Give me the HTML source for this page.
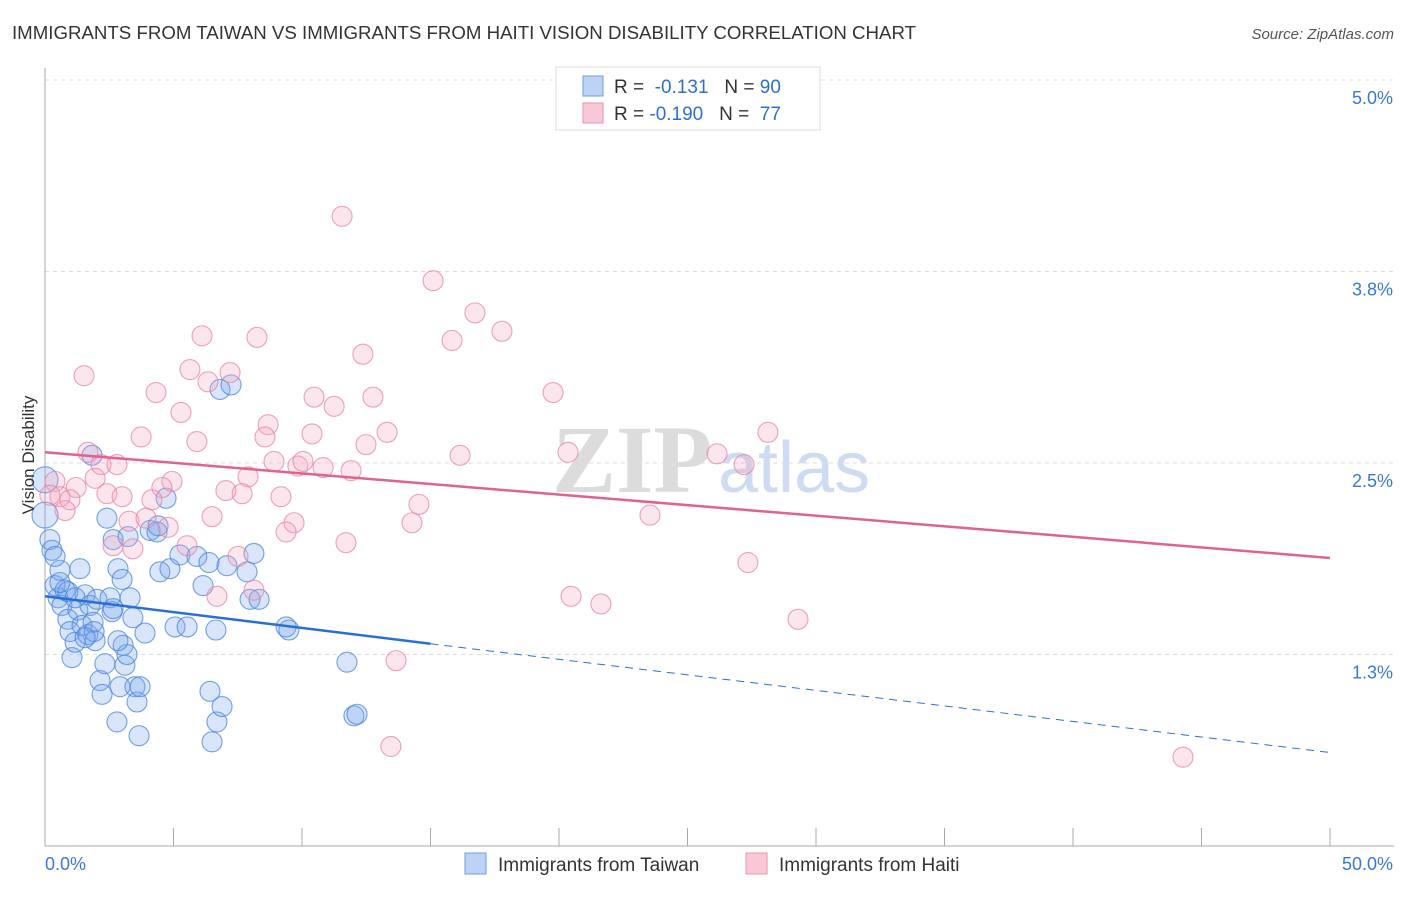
<!DOCTYPE html>
<html><head><meta charset="utf-8"><style>
body{margin:0;background:#fff;font-family:"Liberation Sans",sans-serif}
</style></head><body>
<svg id="chart" width="1406" height="892" xmlns="http://www.w3.org/2000/svg" font-family="Liberation Sans, sans-serif">
<text x="12" y="39" font-size="18" fill="#333" textLength="904" lengthAdjust="spacingAndGlyphs">IMMIGRANTS FROM TAIWAN VS IMMIGRANTS FROM HAITI VISION DISABILITY CORRELATION CHART</text>
<text x="1394" y="39" font-size="15" fill="#555" text-anchor="end" font-style="italic">Source: ZipAtlas.com</text>
<g>
<text x="552" y="492" font-size="96" fill="#dcdcdc" font-family="Liberation Serif, serif" font-weight="bold">ZIP</text>
<text x="718" y="492" font-size="72" fill="#cddcf2">atlas</text>
</g>
<g id="grid"></g><g id="axes"></g><g id="pts"></g><g id="trends"></g>
<text transform="translate(34,455) rotate(-90)" font-size="17" fill="#333" text-anchor="middle">Vision Disability</text>
<g>
<rect x="556" y="67" width="264" height="63" fill="#fff" stroke="#ddd"/>
<rect x="583" y="76" width="20" height="20" fill="#bcd3f5" stroke="#6f9ee0"/>
<rect x="583" y="103" width="20" height="20" fill="#f9c8d6" stroke="#ea93ae"/>
<text x="614" y="93" font-size="19" fill="#333">R = <tspan fill="#2f6fd0">&#160;-0.131</tspan>&#160;&#160;&#160;N = <tspan fill="#2f6fd0">90</tspan></text>
<text x="614" y="120" font-size="19" fill="#333">R = <tspan fill="#2f6fd0">-0.190</tspan>&#160;&#160;&#160;N = <tspan fill="#2f6fd0">&#160;77</tspan></text>
</g>
<g>
<rect x="465" y="853" width="21" height="21" fill="#bcd3f5" stroke="#6f9ee0"/>
<text x="498" y="871" font-size="19" fill="#333">Immigrants from Taiwan</text>
<rect x="746" y="853" width="21" height="21" fill="#f9c8d6" stroke="#ea93ae"/>
<text x="779" y="871" font-size="19" fill="#333">Immigrants from Haiti</text>
</g>
</svg>
<script>
const yTicks=[1.25,2.5,3.75,5.0];
const yTickLabels=["1.3%","2.5%","3.8%","5.0%"];
const xTicks=[0,5,10,15,20,25,30,35,40,45,50];
const taiwanX=[0,0,0.19,0.27,0.39,0.51,0.58,0.66,0.78,0.89,0.97,1.05,1.17,1.28,1.36,1.44,1.56,1.67,1.75,1.83,1.87,1.95,2.02,2.14,2.22,2.33,2.41,2.53,2.61,2.65,2.80,2.84,2.92,3.00,3.04,3.11,3.19,3.23,3.31,3.42,3.50,3.58,3.66,3.70,3.89,4.09,4.36,4.40,4.47,4.71,4.86,5.06,5.25,5.53,5.91,6.15,6.38,6.42,6.50,6.65,6.69,6.81,6.89,7.08,7.24,7.86,7.98,8.13,8.33,9.38,9.49,11.75,12.02,12.14,0.39,0.89,1.17,1.91,1.56,2.65,0.58,2.84];
const taiwanY=[2.39,2.16,2.00,1.93,1.70,1.62,1.80,1.57,1.67,1.48,1.40,1.23,1.33,1.54,1.81,1.44,1.64,1.38,1.57,2.55,1.46,1.34,1.61,1.08,0.99,1.19,2.14,1.62,1.53,2.00,0.81,1.81,1.04,1.74,1.31,1.18,1.25,2.02,1.62,1.49,1.04,0.94,0.72,1.04,1.39,2.06,2.05,2.09,1.79,2.27,1.81,1.43,1.90,1.43,1.89,1.70,1.85,1.01,0.68,1.41,0.81,2.98,0.91,1.83,3.01,1.79,1.61,1.91,1.61,1.43,1.41,1.20,0.85,0.86,1.89,1.66,1.62,1.40,1.36,1.55,1.72,1.34];
const haitiX=[11.56,15.10,16.73,15.84,17.78,12.37,1.52,6.11,8.25,5.64,7.20,6.34,4.32,10.47,12.76,19.77,5.29,11.25,8.68,8.56,10.39,13.31,3.74,5.91,12.49,28.13,1.67,16.15,20.35,26.15,2.18,2.80,8.91,9.84,10.04,10.82,11.91,27.20,1.95,4.94,7.90,0.39,1.21,4.55,7.04,2.41,3.00,7.67,9.18,0.58,0.97,4.16,14.55,0.78,6.50,23.54,3.27,3.93,4.79,9.69,14.28,9.38,5.53,11.71,2.65,3.42,7.51,27.35,8.13,6.69,20.47,21.63,29.30,13.66,13.46,44.28,0.19];
const haitiY=[4.11,3.69,3.48,3.30,3.36,3.21,3.07,3.33,3.32,3.11,3.09,3.03,2.96,2.93,2.93,2.96,2.83,2.87,2.75,2.67,2.69,2.70,2.67,2.64,2.62,2.70,2.57,2.55,2.57,2.56,2.49,2.49,2.51,2.48,2.51,2.47,2.45,2.49,2.40,2.38,2.41,2.38,2.34,2.34,2.32,2.30,2.28,2.30,2.28,2.28,2.26,2.26,2.23,2.19,2.15,2.16,2.12,2.14,2.08,2.11,2.11,2.05,1.96,1.98,1.96,1.94,1.89,1.85,1.67,1.63,1.63,1.58,1.48,1.21,0.65,0.58,2.29];
const taiwanTrend=[[0,1.63],[15,1.32],[50,0.61]];
const haitiTrend=[[0,2.57],[50,1.88]];
const X0=45,X1=1330,YB=846,YPER=153.2;
const sx=v=>X0+(v/50)*(X1-X0);
const sy=v=>YB-v*YPER;
const NS="http://www.w3.org/2000/svg";
function mk(t,a,p){const e=document.createElementNS(NS,t);for(const k in a)e.setAttribute(k,a[k]);p.appendChild(e);return e;}
const grid=document.getElementById('grid'),axes=document.getElementById('axes'),pts=document.getElementById('pts'),tr=document.getElementById('trends');
yTicks.forEach((v,i)=>{
 const l=mk('line',{x1:X0,x2:1394,y1:sy(v),y2:sy(v),stroke:'#ddd','stroke-dasharray':'4,4'},grid);
 
 
 const t=mk('text',{x:1393,y:sy(v)+24,'font-size':18,fill:'#3a78d4','text-anchor':'end'},axes);
 t.textContent=yTickLabels[i];
 
 
});
const gl=mk('line',{x1:X0,x2:1394,y1:80,y2:80,stroke:'#ddd','stroke-dasharray':'4,4'},grid);


const ya=mk('line',{x1:X0,x2:X0,y1:68,y2:YB,stroke:'#aaa'},axes);


const xa=mk('line',{x1:X0,x2:1394,y1:YB,y2:YB,stroke:'#aaa'},axes);


xTicks.forEach(v=>{
 const l=mk('line',{x1:sx(v),x2:sx(v),y1:828,y2:YB,stroke:'#aaa'},axes);
 
 
});
const xl0=mk('text',{x:45,y:870,'font-size':18,fill:'#3a78d4'},axes);xl0.textContent='0.0%';


const xl1=mk('text',{x:1393,y:870,'font-size':18,fill:'#3a78d4','text-anchor':'end'},axes);xl1.textContent='50.0%';


taiwanX.forEach((v,i)=>{
 const r=(v===0)?13:10;
 const c=mk('circle',{cx:sx(v),cy:sy(taiwanY[i]),r:r,fill:'rgba(120,165,235,0.28)',stroke:'rgba(70,130,220,0.75)','stroke-width':1.1},pts);
 
 
});
haitiX.forEach((v,i)=>{
 const c=mk('circle',{cx:sx(v),cy:sy(haitiY[i]),r:10,fill:'rgba(245,165,190,0.28)',stroke:'rgba(230,130,165,0.75)','stroke-width':1.1},pts);
 
 
});
const t1=mk('line',{x1:sx(taiwanTrend[0][0]),y1:sy(taiwanTrend[0][1]),x2:sx(taiwanTrend[1][0]),y2:sy(taiwanTrend[1][1]),stroke:'#2a6fd6','stroke-width':2.5},tr);


const t2=mk('line',{x1:sx(taiwanTrend[1][0]),y1:sy(taiwanTrend[1][1]),x2:sx(taiwanTrend[2][0]),y2:sy(taiwanTrend[2][1]),stroke:'#2a6fd6','stroke-width':1,'stroke-dasharray':'8,6'},tr);


const t3=mk('line',{x1:sx(haitiTrend[0][0]),y1:sy(haitiTrend[0][1]),x2:sx(haitiTrend[1][0]),y2:sy(haitiTrend[1][1]),stroke:'#e0628f','stroke-width':2.5},tr);


</script>
</body></html>
